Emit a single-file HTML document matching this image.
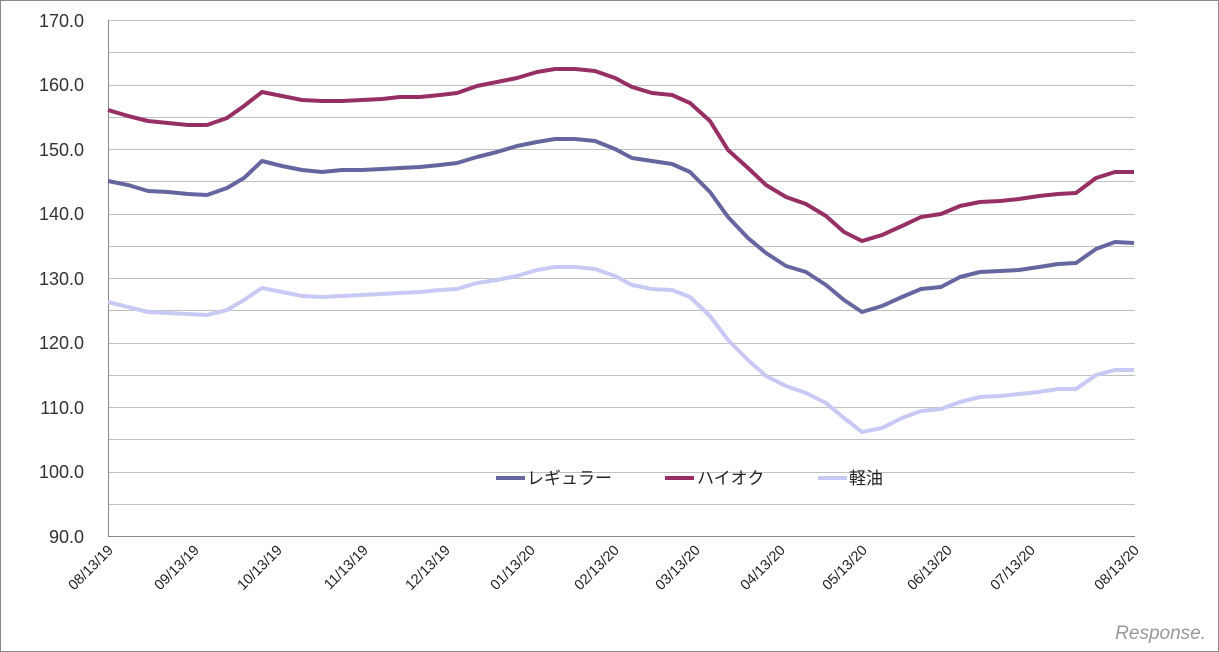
<!DOCTYPE html>
<html><head><meta charset="utf-8"><style>
body{margin:0;background:#fff}
svg{display:block}
text{font-family:"Liberation Sans","Noto Sans CJK JP",sans-serif}
</style></head><body>
<svg width="1219" height="652" viewBox="0 0 1219 652" xmlns="http://www.w3.org/2000/svg">
<rect x="0.5" y="0.5" width="1218" height="651" fill="#fff" stroke="#888"/>
<g stroke="#c0c0c0" stroke-width="1">
<line x1="108" y1="20.5" x2="1135" y2="20.5"/><line x1="108" y1="52.5" x2="1135" y2="52.5"/>
<line x1="108" y1="85.5" x2="1135" y2="85.5"/><line x1="108" y1="117.5" x2="1135" y2="117.5"/>
<line x1="108" y1="149.5" x2="1135" y2="149.5"/><line x1="108" y1="181.5" x2="1135" y2="181.5"/>
<line x1="108" y1="214.5" x2="1135" y2="214.5"/><line x1="108" y1="246.5" x2="1135" y2="246.5"/>
<line x1="108" y1="278.5" x2="1135" y2="278.5"/><line x1="108" y1="310.5" x2="1135" y2="310.5"/>
<line x1="108" y1="343.5" x2="1135" y2="343.5"/><line x1="108" y1="375.5" x2="1135" y2="375.5"/>
<line x1="108" y1="407.5" x2="1135" y2="407.5"/><line x1="108" y1="439.5" x2="1135" y2="439.5"/>
<line x1="108" y1="472.5" x2="1135" y2="472.5"/><line x1="108" y1="504.5" x2="1135" y2="504.5"/>
</g>
<path d="M108.5 20V536.5H1135" fill="none" stroke="#888"/>
<g font-size="18" fill="#333" text-anchor="end">
<text x="84" y="27">170.0</text><text x="84" y="91">160.0</text><text x="84" y="156">150.0</text>
<text x="84" y="220">140.0</text><text x="84" y="285">130.0</text><text x="84" y="349">120.0</text>
<text x="84" y="414">110.0</text><text x="84" y="478">100.0</text><text x="84" y="543">90.0</text>
</g>
<g font-size="14.5" fill="#222" text-anchor="end">
<text transform="translate(114,551) rotate(-45)">08/13/19</text>
<text transform="translate(200,551) rotate(-45)">09/13/19</text>
<text transform="translate(283,551) rotate(-45)">10/13/19</text>
<text transform="translate(369,551) rotate(-45)">11/13/19</text>
<text transform="translate(451,551) rotate(-45)">12/13/19</text>
<text transform="translate(536,551) rotate(-45)">01/13/20</text>
<text transform="translate(620,551) rotate(-45)">02/13/20</text>
<text transform="translate(701,551) rotate(-45)">03/13/20</text>
<text transform="translate(786,551) rotate(-45)">04/13/20</text>
<text transform="translate(868,551) rotate(-45)">05/13/20</text>
<text transform="translate(953,551) rotate(-45)">06/13/20</text>
<text transform="translate(1036,551) rotate(-45)">07/13/20</text>
<text transform="translate(1140,551) rotate(-45)">08/13/20</text>
</g>
<g fill="none" stroke-width="4" stroke-linejoin="round">
<polyline stroke="#c9c9f5" points="108,302 128,307 148,312 168,313 188,314 207,315 227,310 244,300 262,288 282,292 302,296 322,297 342,296 362,295 382,294 400,293 420,292 440,290 457,289 477,283 497,280 517,276 537,270 555,267 575,267 595,269 615,276 632,285 652,289 672,290 690,297 710,316 728,340 748,360 766,376 786,386 806,393 826,403 844,418 862,432 882,428 902,418 921,411 941,409 960,402 980,397 1000,396 1019,394 1039,392 1058,389 1076,389 1096,375 1115,370 1134,370"/>
<polyline stroke="#65659f" points="108,181 128,185 148,191 168,192 188,194 207,195 227,188 244,178 262,161 282,166 302,170 322,172 342,170 362,170 382,169 400,168 420,167 440,165 457,163 477,157 497,152 517,146 537,142 555,139 575,139 595,141 615,149 632,158 652,161 672,164 690,172 710,192 728,217 748,238 766,253 786,266 806,272 826,285 844,300 862,312 882,306 902,297 921,289 941,287 960,277 980,272 1000,271 1019,270 1039,267 1058,264 1076,263 1096,249 1115,242 1134,243"/>
<polyline stroke="#962f64" points="108,110 128,116 148,121 168,123 188,125 207,125 227,118 244,106 262,92 282,96 302,100 322,101 342,101 362,100 382,99 400,97 420,97 440,95 457,93 477,86 497,82 517,78 537,72 555,69 575,69 595,71 615,78 632,87 652,93 672,95 690,103 710,121 728,150 748,168 766,185 786,197 806,204 826,216 844,232 862,241 882,235 902,226 921,217 941,214 960,206 980,202 1000,201 1019,199 1039,196 1058,194 1076,193 1096,178 1115,172 1134,172"/>
</g>
<g stroke-width="4">
<line x1="496" y1="478" x2="525" y2="478" stroke="#65659f"/>
<line x1="665" y1="478" x2="694" y2="478" stroke="#962f64"/>
<line x1="818" y1="478" x2="847" y2="478" stroke="#c9c9f5"/>
</g>
<g font-size="17" fill="#222">
<text x="527" y="484">レギュラー</text>
<text x="697" y="484">ハイオク</text>
<text x="849" y="484">軽油</text>
</g>
<text x="1206" y="639" font-size="19" fill="#999" text-anchor="end" font-style="italic">Response.</text>
</svg>
</body></html>
